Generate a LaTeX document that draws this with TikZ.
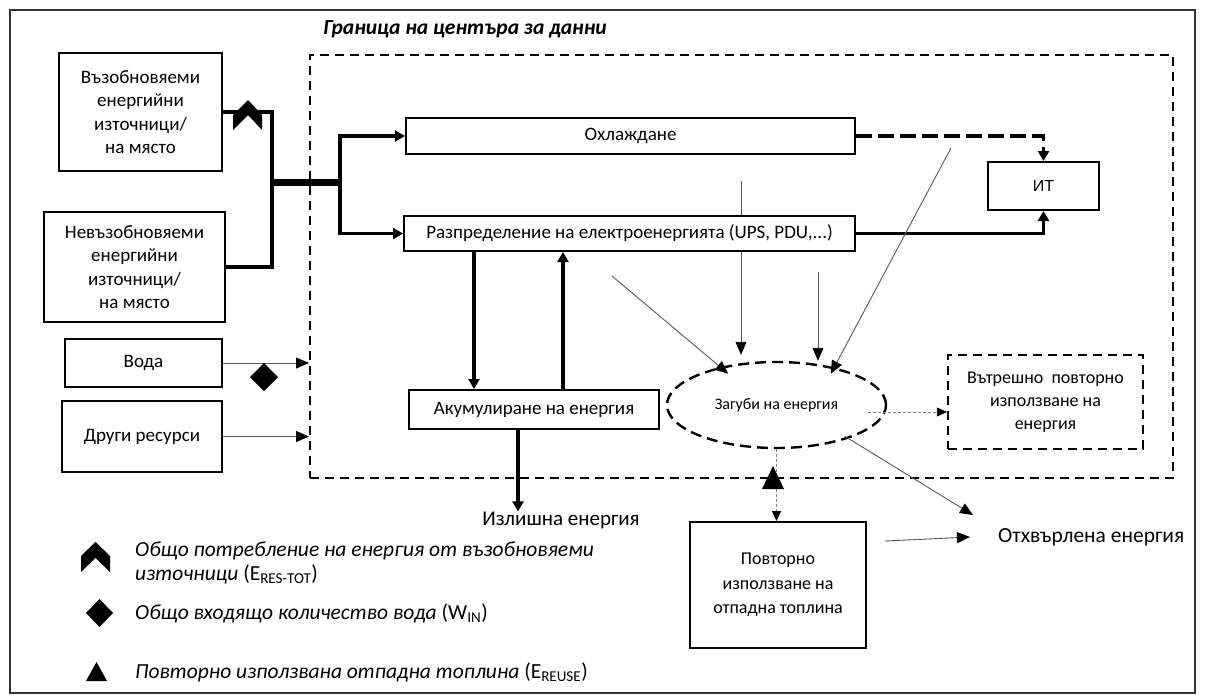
\documentclass[tikz,border=0pt]{standalone}
\usepackage{fontspec}
\setmainfont{Carlito}
\newfontfamily\arialfont{Liberation Sans}
\usepackage{tikz}
\usetikzlibrary{shapes.geometric, arrows.meta, positioning, backgrounds}
\tikzstyle{block} = [rectangle, draw=black, line width=2pt, fill=white, inner sep=0pt, text centered, align=center, font=\fontsize{19}{23.5}\selectfont]
\tikzstyle{dashblock} = [rectangle, draw=black, line width=2.2pt, dash pattern=on 9pt off 6pt, inner sep=0pt, text centered, align=center, font=\fontsize{18}{23}\selectfont]
\tikzstyle{boundary} = [rectangle, draw=black, line width=2pt, dash pattern=on 9pt off 6pt, inner sep=0pt]
\tikzstyle{lossblob} = [ellipse, draw=black, line width=2.4pt, dash pattern=on 11pt off 6pt, inner sep=0pt, text centered, font=\fontsize{16}{19}\selectfont]
\tikzstyle{outtext} = [inner sep=0pt, font=\fontsize{21.5}{25}\selectfont]
\tikzstyle{legendtext} = [inner sep=0pt, anchor=west, align=left, font=\fontsize{21.5}{24}\selectfont\itshape]
\tikzstyle{feed} = [line width=3.5pt, -{Triangle[length=10pt,width=11pt]}]
\tikzstyle{feedline} = [line width=3.5pt]
\tikzstyle{busline} = [line width=7pt]
\tikzstyle{heatline} = [line width=0.9pt, draw=black!65, -{Triangle[length=13pt,width=11pt,color=black]}]
\tikzstyle{reuseline} = [line width=0.8pt, draw=black!50, dash pattern=on 3pt off 2pt, -{Triangle[length=10pt,width=9pt,color=black]}]
\begin{document}
\begin{tikzpicture}[x=1pt, y=-1pt, node distance=100pt]
\useasboundingbox (0,0) rectangle (1205,699);
\draw[line width=2pt, black!80] (10,10) rectangle (1195,693);

\node (dc) [boundary, minimum width=863pt, minimum height=423pt] at (741.5,266.5) {};
\node (dctitle) [outtext] at (465,29) {\bfseries\itshape Граница на центъра за данни};

\node (ren) [block, minimum width=163pt, minimum height=118pt] at (140.5,112) {Възобновяеми\\енергийни\\източници/\\на място};
\node (nonren) [block, below of=ren, minimum width=181pt, minimum height=110pt, xshift=-6pt, yshift=-55pt] {Невъзобновяеми\\енергийни\\източници/\\на място};
\node (water) [block, below of=nonren, minimum width=157pt, minimum height=48pt, xshift=9pt, yshift=4pt] {Вода};
\node (other) [block, below of=water, minimum width=160pt, minimum height=71pt, xshift=-1.5pt, yshift=26.5pt] {Други ресурси};

\node (cool) [block, minimum width=449pt, minimum height=36pt] at (630.5,136) {Охлаждане};
\node (dist) [block, below of=cool, minimum width=451pt, minimum height=35pt, xshift=-1pt, yshift=2.5pt] {Разпределение на електроенергията (UPS, PDU,...)};
\node (it) [block, right of=cool, minimum width=111pt, minimum height=48pt, xshift=313pt, yshift=-50pt, font=\arialfont\fontsize{16}{19}\selectfont] {ИТ};
\node (store) [block, below of=dist, minimum width=250pt, minimum height=39pt, xshift=-95.5pt, yshift=-76pt] {Акумулиране на енергия};
\node (loss) [lossblob, right of=store, minimum width=219pt, minimum height=86pt, xshift=142.5pt, yshift=4.5pt] {Загуби на енергия};
\node (reuseint) [dashblock, right of=loss, minimum width=195pt, minimum height=94pt, xshift=169pt, yshift=3pt] {Вътрешно\ \ повторно\\използване на\\енергия};
\node (heat) [block, below of=loss, minimum width=176pt, minimum height=126pt, xshift=1.5pt, yshift=-80pt, font=\fontsize{18}{24.5}\selectfont] {Повторно\\използване на\\отпадна топлина};

\node (excess) [outtext, below of=store, xshift=27pt, yshift=-10.5pt, font=\fontsize{21}{25}\selectfont] {Излишна енергия};
\node (rejected) [outtext, anchor=west] at (998,537) {Отхвърлена енергия};

\coordinate (busL) at (272,182);
\coordinate (busR) at (340,182);
\draw[feedline] (ren.east) -| (busL);
\draw[feedline] (nonren.east) -| (busL);
\draw[busline] (busL) -- (busR);
\draw[feed] (busR) |- (cool.west);
\draw[feed] (busR) |- (dist.west);
\draw[feed, dash pattern=on 16pt off 6pt] (cool.east) -| (it.north);
\draw[feed] (dist.east) -| (it.south);

\coordinate (stIn) at ([xshift=-60pt]store.north);
\coordinate (stOut) at ([xshift=29pt]store.north);
\coordinate (exOut) at ([xshift=-16pt]store.south);
\draw[feed] (stIn |- dist.south) -- (stIn);
\draw[feed] (stOut) -- (stOut |- dist.south);
\draw[feed] (exOut) -- (exOut |- excess.north);

\draw[heatline] (water.east) -- (water.east -| dc.west);
\draw[heatline] (other.east) -- (other.east -| dc.west);

\coordinate (c1) at (741,181);
\coordinate (c2) at (818,272);
\coordinate (c3) at (612,276);
\coordinate (c4) at (951,148);
\begin{pgfonlayer}{background}
\draw[heatline] (c1) -- ([xshift=-35.5pt,yshift=6pt]loss.north);
\end{pgfonlayer}
\draw[heatline] (c2) -- ([xshift=41.5pt]loss.north);
\draw[heatline] (c3) -- ([xshift=30pt]loss.north west);
\draw[heatline] (c4) -- ([xshift=-24pt]loss.north east);

\coordinate (lossOut) at ([xshift=-19pt,yshift=-7pt]loss.east);
\draw[reuseline] (lossOut) -- (lossOut -| reuseint.west);
\draw[reuseline] (loss.south) -- (loss.south |- heat.north);
\draw[heatline] ([xshift=-10pt]loss.south east) -- ([xshift=-25pt,yshift=22pt]rejected.west);
\coordinate (heatOut) at ([xshift=18pt,yshift=44pt]heat.east);
\draw[heatline] (heatOut) -- ([xshift=-28pt]rejected.west);

\fill (248,100) -- ++(-15,15) -- ++(0,15) -- ++(15,-15) -- ++(14,15) -- ++(0,-15) -- cycle;
\fill (264,363) -- (278,377) -- (264,391) -- (250,377) -- cycle;
\fill (773,466) -- (784,489) -- (762,489) -- cycle;

\fill (95.5,542) -- ++(-14.5,14) -- ++(0,16) -- ++(14.5,-14) -- ++(14.5,14) -- ++(0,-16) -- cycle;
\node (legres) [legendtext] at (135,563) {Общо потребление на енергия от възобновяеми\\източници \textup{(E\textsubscript{RES-TOT})}};
\fill (99.5,599) -- (113,613) -- (99.5,627) -- (86,613) -- cycle;
\node (legwat) [legendtext] at (135,613) {Общо входящо количество вода \textup{(W\textsubscript{IN})}};
\fill (96.5,662) -- (107,681) -- (86,681) -- cycle;
\node (legheat) [legendtext] at (135,672) {Повторно използвана отпадна топлина \textup{(E\textsubscript{REUSE})}};
\end{tikzpicture}
\end{document}
